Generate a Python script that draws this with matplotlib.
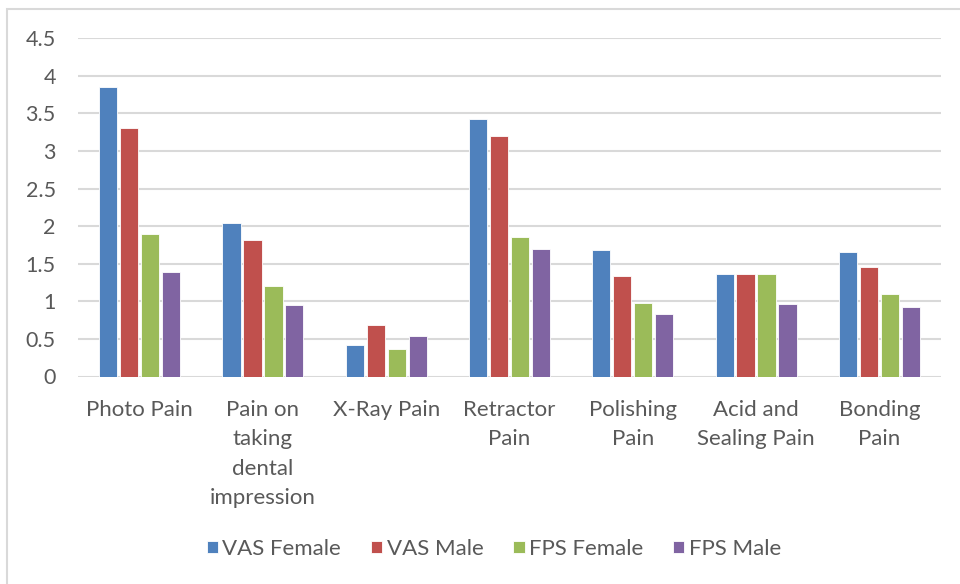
import numpy as np
import matplotlib.pyplot as plt
from matplotlib.patches import Rectangle

categories = ['Photo Pain', 'Pain on\ntaking\ndental\nimpression', 'X-Ray Pain',
              'Retractor\nPain', 'Polishing\nPain', 'Acid and\nSealing Pain', 'Bonding\nPain']
vas_female = [3.85, 2.04, 0.42, 3.42, 1.68, 1.37, 1.65]
vas_male = [3.31, 1.82, 0.69, 3.20, 1.34, 1.36, 1.46]
fps_female = [1.89, 1.20, 0.37, 1.85, 0.98, 1.37, 1.10]
fps_male = [1.39, 0.95, 0.54, 1.70, 0.83, 0.96, 0.93]

series = [('VAS Female', vas_female, '#4F81BD'),
          ('VAS Male', vas_male, '#C0504D'),
          ('FPS Female', fps_female, '#9BBB59'),
          ('FPS Male', fps_male, '#8064A2')]

plt.rcParams['font.family'] = ['Lato', 'DejaVu Sans']
text_color = '#595959'

fig = plt.figure(figsize=(9.6, 5.84), dpi=100)
ax = fig.add_axes([78 / 960, 1 - 376.5 / 584, 863 / 960, 338.2 / 584])

# chart border
fig.patches.append(Rectangle((7 / 960, -0.1), 1.1, 1 - 9 / 584 + 0.1, transform=fig.transFigure,
                             fill=False, edgecolor='#D9D9D9', linewidth=1.5))

x = np.arange(len(categories))
slot = 0.17
width = 0.148
for i, (name, vals, color) in enumerate(series):
    ax.bar(x + (i - 1.5) * slot, vals, width, color=color, edgecolor='white',
           linewidth=0.6, label=name, zorder=3)

ax.set_xlim(-0.5, len(categories) - 0.5)
ax.set_ylim(0, 4.5)
ax.set_yticks(np.arange(0, 4.51, 0.5))
ax.set_yticklabels(['0', '0.5', '1', '1.5', '2', '2.5', '3', '3.5', '4', '4.5'])
ax.yaxis.grid(True, color='#D9D9D9', linewidth=1.5, zorder=0)
ax.set_axisbelow(True)
for s in ax.spines.values():
    s.set_visible(False)
ax.tick_params(axis='y', length=0, pad=16, labelsize=15.5, labelcolor=text_color)
ax.tick_params(axis='x', length=0, pad=17, labelsize=16, labelcolor=text_color)
ax.set_xticks(x)
ax.set_xticklabels(categories, linespacing=1.58, va='top')

leg = fig.legend(loc='center', bbox_to_anchor=(494 / 960, 1 - 549 / 584), ncol=4, frameon=False,
                 fontsize=16, handlelength=0.5, handleheight=0.5, handletextpad=0.2,
                 columnspacing=1.35)
for t in leg.get_texts():
    t.set_color(text_color)

fig.savefig('out.png', dpi=100)
